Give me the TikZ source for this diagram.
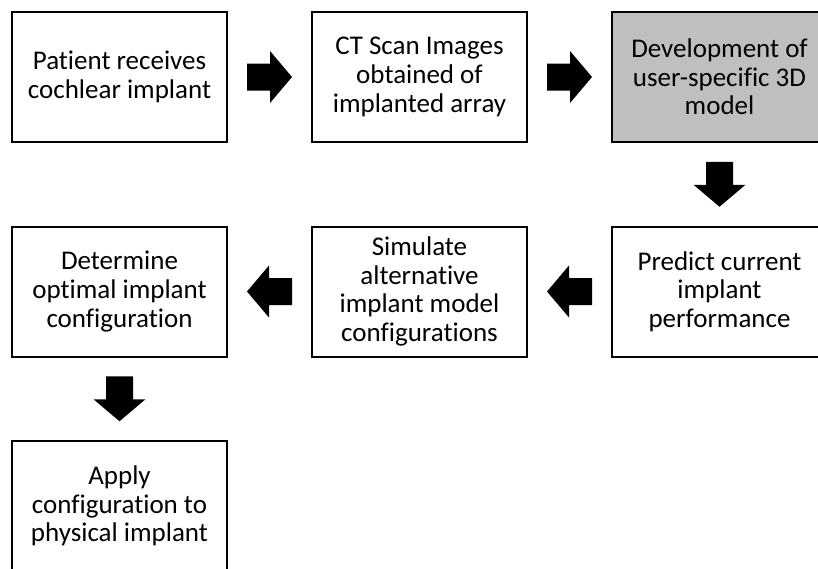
\documentclass[tikz,border=0pt]{standalone}
\usepackage{fontspec}
\setmainfont{Carlito}[Ligatures=NoCommon]
\usetikzlibrary{calc}
\definecolor{boxgrey}{RGB}{191,191,191}
\tikzset{
  stepbox/.style={draw=black, line width=2pt, fill=white, minimum width=215pt, minimum height=130pt,
    inner sep=0pt, align=center, font=\fontsize{27}{28.6}\selectfont, text=black},
  greybox/.style={stepbox, fill=boxgrey},
}
\newcommand\blockarrow[2]{%
  \fill[black, shift={(#1)}, rotate=#2]
    (-22.5,-13.5) -- (0.5,-13.5) -- (0.5,-26) -- (22.5,0) -- (0.5,26) -- (0.5,13.5) -- (-22.5,13.5) -- cycle;}
\begin{document}
\begin{tikzpicture}[x=1pt,y=-1pt]
\clip (0,0) rectangle (818,568);
\fill[white] (0,0) rectangle (818,568);
\node[stepbox] (b1) at (119.5,77) {Patient receives\\cochlear implant};
\node[stepbox] (b2) at (419.5,77) {CT Scan Images\\obtained of\\implanted array};
\node[greybox] (b3) at (719.5,77) {Development of\\user-specific 3D\\model};
\node[stepbox] (b4) at (719.5,291.5) {Predict current\\implant\\performance};
\node[stepbox] (b5) at (419.5,291.5) {Simulate\\alternative\\implant model\\configurations};
\node[stepbox] (b6) at (119.5,291.5) {Determine\\optimal implant\\configuration};
\node[stepbox] (b7) at (119.5,506) {Apply\\configuration to\\physical implant};
\coordinate (a1) at ($(b1.east)!0.5!(b2.west)$);
\coordinate (a2) at ($(b2.east)!0.5!(b3.west)$);
\coordinate (a3) at ($(b3.south)!0.5!(b4.north)$);
\coordinate (a4) at ($(b4.west)!0.5!(b5.east)$);
\coordinate (a5) at ($(b5.west)!0.5!(b6.east)$);
\coordinate (a6) at ($(b6.south)!0.5!(b7.north)$);
\blockarrow{a1}{0}
\blockarrow{a2}{0}
\blockarrow{a3}{-90}
\blockarrow{a4}{180}
\blockarrow{a5}{180}
\blockarrow{a6}{-90}
\end{tikzpicture}
\end{document}
